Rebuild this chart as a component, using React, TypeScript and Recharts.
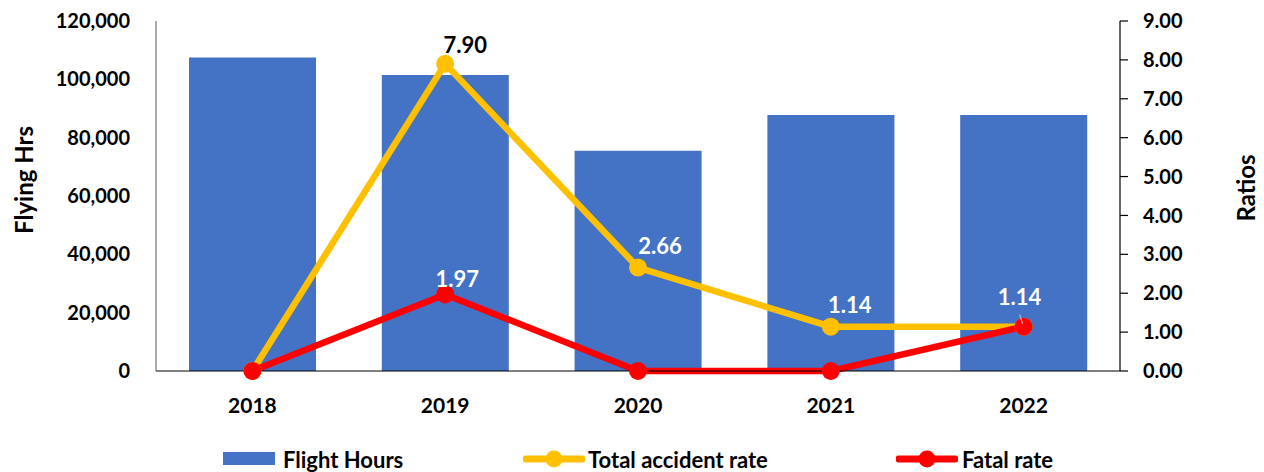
import React from 'react';
import { ComposedChart, Bar, Line, XAxis, YAxis } from 'recharts';

const years = ['2018', '2019', '2020', '2021', '2022'];
const flightHours = [107500, 101500, 75500, 87800, 87800];
const totalAccidentRate = [0, 7.9, 2.66, 1.14, 1.14];
const fatalRate = [0, 1.97, 0, 0, 1.14];
const seriesNames = ['Flight Hours', 'Total accident rate', 'Fatal rate'];
const leftTicks = [0, 20000, 40000, 60000, 80000, 100000, 120000];
const rightTicks = [0, 1, 2, 3, 4, 5, 6, 7, 8, 9];
const leftTitle = 'Flying Hrs';
const rightTitle = 'Ratios';

const data = years.map((y, i) => ({
  year: y,
  hours: flightHours[i],
  total: totalAccidentRate[i],
  fatal: fatalRate[i],
}));

const FONT = 'Lato, "Open Sans", sans-serif';
const BLUE = '#4472C4';
const YELLOW = '#FFC000';
const RED = '#FF0000';

type LS = { fill: string; dx: number; dy: number; leader?: boolean } | null;
const totalLabelStyle: LS[] = [null, { fill: '#000', dx: 20, dy: -19 }, { fill: '#fff', dx: 22, dy: -22 }, { fill: '#fff', dx: 19, dy: -22 }, null];
const fatalLabelStyle: LS[] = [null, { fill: '#fff', dx: 12, dy: -16 }, null, null, { fill: '#fff', dx: -4, dy: -30, leader: true }];

const makeLabel = (styles: LS[]) => (props: any) => {
  const { x, y, value, index } = props;
  const s = styles[index];
  if (!s) return null;
  return (
    <g key={`lbl-${index}`}>
      {s.leader ? <line x1={x - 4} y1={y - 12} x2={x - 1} y2={y - 3} stroke="#bfbfbf" strokeWidth={1.2} /> : null}
      <text
        x={x + s.dx}
        y={y + s.dy}
        textAnchor="middle"
        dominantBaseline="central"
        fill={s.fill}
        fontFamily={FONT}
        fontWeight={700}
        fontSize={22}
      >
        {Number(value).toFixed(2)}
      </text>
    </g>
  );
};

const axisTitle = (text: string, dxFromLeft: number, dyFromCenter: number) => (props: any) => {
  const vb = props.viewBox || {};
  const cx = vb.x + dxFromLeft;
  const cy = vb.y + vb.height / 2 + dyFromCenter;
  return (
    <text
      x={cx}
      y={cy}
      transform={`rotate(-90, ${cx}, ${cy})`}
      textAnchor="middle"
      dominantBaseline="central"
      fontFamily={FONT}
      fontWeight={700}
      fontSize={24}
      fill="#000"
    >
      {text}
    </text>
  );
};

const yTickStyle = { fontFamily: FONT, fontWeight: 700, fontSize: 20, fill: '#000' };
const xTickStyle = { fontFamily: FONT, fontWeight: 700, fontSize: 21, fill: '#000' };

const LegendLine = ({ color }: { color: string }) => (
  <svg width={62} height={20} style={{ display: 'block' }}>
    <line x1={3} y1={10} x2={59} y2={10} stroke={color} strokeWidth={7} strokeLinecap="round" />
    <circle cx={31} cy={10} r={8.5} fill={color} />
  </svg>
);

export default function App() {
  return (
    <div style={{ position: 'absolute', left: 0, top: 0, width: 1264, height: 472, background: '#fff' }}>
      <ComposedChart width={1264} height={472} data={data} margin={{ top: 21, right: 0, bottom: 0, left: 0 }}>
        <XAxis
          dataKey="year"
          height={101}
          axisLine={{ stroke: '#000', strokeWidth: 1.2 }}
          tickLine={false}
          tickSize={0}
          tickMargin={27}
          tick={xTickStyle}
          interval={0}
        />
        <YAxis
          yAxisId="left"
          orientation="left"
          width={156}
          domain={[0, 120000]}
          ticks={leftTicks}
          interval={0}
          tickFormatter={(v: number) => v.toLocaleString('en-US')}
          axisLine={{ stroke: '#595959', strokeWidth: 1 }}
          tickLine={false}
          tickSize={0}
          tickMargin={26}
          tick={yTickStyle}
          label={axisTitle(leftTitle, 23, -16)}
        />
        <YAxis
          yAxisId="right"
          orientation="right"
          width={144}
          domain={[0, 9]}
          ticks={rightTicks}
          interval={0}
          tickFormatter={(v: number) => v.toFixed(2)}
          axisLine={{ stroke: '#000', strokeWidth: 1.2 }}
          tickLine={{ stroke: '#000', strokeWidth: 1.2 }}
          tickSize={8}
          tickMargin={15}
          tick={yTickStyle}
          label={axisTitle(rightTitle, 125, -8)}
        />
        <Bar yAxisId="left" dataKey="hours" name={seriesNames[0]} fill={BLUE} barSize={127} isAnimationActive={false} />
        <Line
          yAxisId="right"
          dataKey="total"
          name={seriesNames[1]}
          stroke={YELLOW}
          strokeWidth={6.5}
          dot={{ r: 9, fill: YELLOW, stroke: YELLOW, strokeWidth: 0 }}
          activeDot={false}
          isAnimationActive={false}
          label={makeLabel(totalLabelStyle)}
        />
        <Line
          yAxisId="right"
          dataKey="fatal"
          name={seriesNames[2]}
          stroke={RED}
          strokeWidth={6.5}
          dot={{ r: 9, fill: RED, stroke: RED, strokeWidth: 0 }}
          activeDot={false}
          isAnimationActive={false}
          label={makeLabel(fatalLabelStyle)}
        />
      </ComposedChart>
      <div style={{ position: 'absolute', top: 447, left: 0, width: 1264, height: 26, fontFamily: FONT, fontWeight: 700, fontSize: 22, color: '#000' }}>
        <div style={{ position: 'absolute', left: 223, top: 5, width: 52, height: 13, background: BLUE }} />
        <div style={{ position: 'absolute', left: 283, top: 0, lineHeight: '26px', whiteSpace: 'nowrap' }}>{seriesNames[0]}</div>
        <div style={{ position: 'absolute', left: 523, top: 2 }}><LegendLine color={YELLOW} /></div>
        <div style={{ position: 'absolute', left: 588, top: 0, lineHeight: '26px', whiteSpace: 'nowrap' }}>{seriesNames[1]}</div>
        <div style={{ position: 'absolute', left: 896, top: 2 }}><LegendLine color={RED} /></div>
        <div style={{ position: 'absolute', left: 962, top: 0, lineHeight: '26px', whiteSpace: 'nowrap' }}>{seriesNames[2]}</div>
      </div>
    </div>
  );
}
